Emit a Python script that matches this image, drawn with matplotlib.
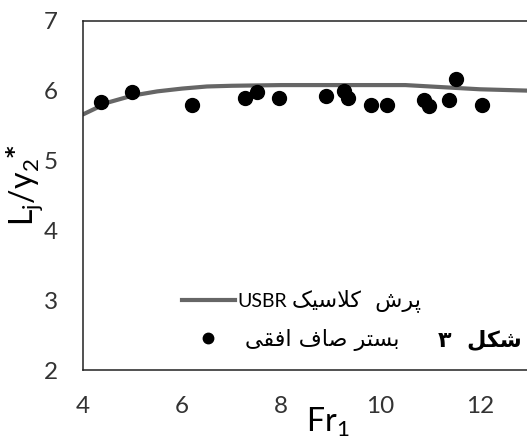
import matplotlib
matplotlib.use("Agg")
import matplotlib.pyplot as plt
from matplotlib.lines import Line2D

# measured points, horizontal smooth bed
fr1 = [4.36, 4.99, 6.20, 7.26, 7.51, 7.95, 8.90, 9.26, 9.34, 9.80, 10.14, 10.88, 10.98, 11.39, 11.52, 12.04]
lj_y2 = [5.84, 5.98, 5.80, 5.89, 5.98, 5.89, 5.92, 5.99, 5.89, 5.80, 5.80, 5.87, 5.78, 5.87, 6.17, 5.80]

# USBR classical jump curve
usbr_fr = [4.0, 4.5, 5.0, 5.5, 6.0, 6.5, 7.0, 8.0, 9.0, 10.0, 10.5, 11.0, 11.5, 12.0, 12.5, 13.0, 14.0]
usbr_lj = [5.66, 5.83, 5.93, 5.99, 6.03, 6.06, 6.07, 6.08, 6.08, 6.08, 6.08, 6.06, 6.04, 6.02, 6.01, 6.00, 5.98]

# Persian labels written in presentation forms (visual order)
lbl_usbr_fa = "\uFB8F\uFBFF\uFEB3\uFEFC\uFB90" + "  " + "\uFEB5\uFEAE\uFB58"
lbl_flat_fa = "\uFBFD\uFED8\uFED3\uFE8D" + " " + "\uFED1\uFE8E\uFEBB" + " " + "\uFEAE\uFE98\uFEB4\uFE91"
fig_no = "\u06F3  " + "\uFEDE\uFB91\uFEB7"

plt.rcParams["font.family"] = ["Lato", "DejaVu Sans"]
plt.rcParams["mathtext.default"] = "regular"

fig = plt.figure(figsize=(5.27, 4.38), dpi=100)
ax = fig.add_axes([0.1575, 0.155, 0.941, 0.7975])

ax.plot(usbr_fr, usbr_lj, color="#666666", lw=3, solid_capstyle="round", zorder=2)
ax.scatter(fr1, lj_y2, s=100, color="black", zorder=3)

ax.set_xlim(4, 14)
ax.set_ylim(2, 7)
ax.set_xticks([4, 6, 8, 10, 12])
ax.set_yticks([2, 3, 4, 5, 6, 7])
ax.tick_params(length=0, labelsize=17.5, colors="#333333")
ax.tick_params(axis="y", pad=18)
ax.tick_params(axis="x", pad=19)
for s in ax.spines.values():
    s.set_color("#222222")
    s.set_linewidth(1.1)

ax.set_xlabel("Fr$_1$", fontsize=23, va="baseline")
ax.xaxis.set_label_coords(0.494, -0.178)
ax.set_ylabel("L$_j$/y$_2$$^{\\mathbf{*}}$", fontsize=23)
ax.yaxis.set_label_coords(-0.077, 0.53)

handles = [
    Line2D([], [], color="#666666", lw=3),
    Line2D([], [], color="black", marker="o", ls="none", markersize=7.5),
]
ax.legend(handles, ["USBR", " "], loc="upper left",
          bbox_to_anchor=(0.2, 0.22), frameon=False, fontsize=14,
          borderpad=0, borderaxespad=0,
          handlelength=2.7, handletextpad=0.15, labelspacing=1.05)

fa = ["DejaVu Sans"]
ax.text(0.421, 0.2006, lbl_usbr_fa, transform=ax.transAxes, ha="left", va="center",
        fontsize=16, family=fa)
ax.text(0.3266, 0.086, lbl_flat_fa, transform=ax.transAxes, ha="left", va="center",
        fontsize=16, family=fa)
ax.text(0.80, 0.086, fig_no, transform=ax.transAxes, ha="center", va="center",
        fontsize=16, fontweight="bold", family=fa)

fig.savefig("out.png", dpi=100)
